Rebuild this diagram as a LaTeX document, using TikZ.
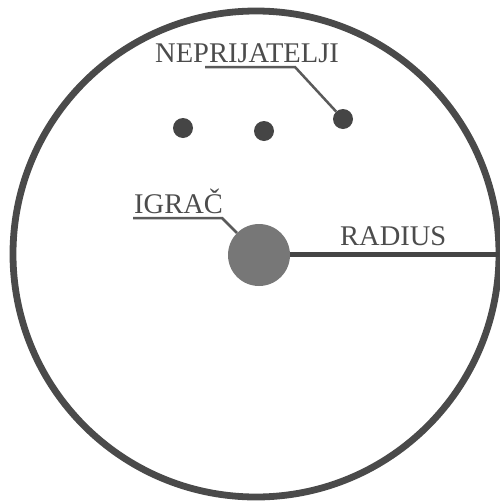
\documentclass[tikz,border=0pt]{standalone}
\usepackage{fontspec}
\setmainfont{Liberation Serif}
\definecolor{ringc}{HTML}{4A4A4A}
\definecolor{dotc}{HTML}{454545}
\definecolor{playc}{HTML}{777777}
\definecolor{txtc}{HTML}{4C4C4C}
\definecolor{leadc}{HTML}{5A5A5A}
\begin{document}
\begin{tikzpicture}[x=1pt,y=-1pt,
  lbl/.style={font=\fontsize{28.5}{30}\selectfont, text=txtc, inner sep=0pt, anchor=base west},
  enemy/.style={circle, fill=dotc, minimum size=20pt, inner sep=0pt},
  leader/.style={draw=leadc, line width=2.5pt},
]
\useasboundingbox (0,0) rectangle (500,504);
\fill[white] (0,0) rectangle (500,504);
\draw[ringc, line width=6.8pt] (256,254) circle[radius=243];
\coordinate (edge) at (499,254);
\node[circle, fill=playc, minimum size=62pt, inner sep=0pt] (player) at (259,255) {};
\draw[dotc, line width=5pt] (player.east |- edge) -- (edge);
\node[enemy] (e1) at (183,128) {};
\node[enemy] (e2) at (264,131) {};
\node[enemy] (e3) at (343,119) {};
\node[lbl] (nep) at (155,62) {NEPRIJATELJI};
\node[lbl] (igr) at (134,213) {IGRAČ};
\node[lbl] (rad) at (340,245) {RADIUS};
\coordinate (n1) at (205,67);
\coordinate (n2) at (295,67);
\coordinate (i1) at (133,218);
\coordinate (i2) at (222,218);
\draw[leader] (n1) -- (n2) -- (e3);
\draw[leader] (i1) -- (i2) -- (player);
\end{tikzpicture}
\end{document}
